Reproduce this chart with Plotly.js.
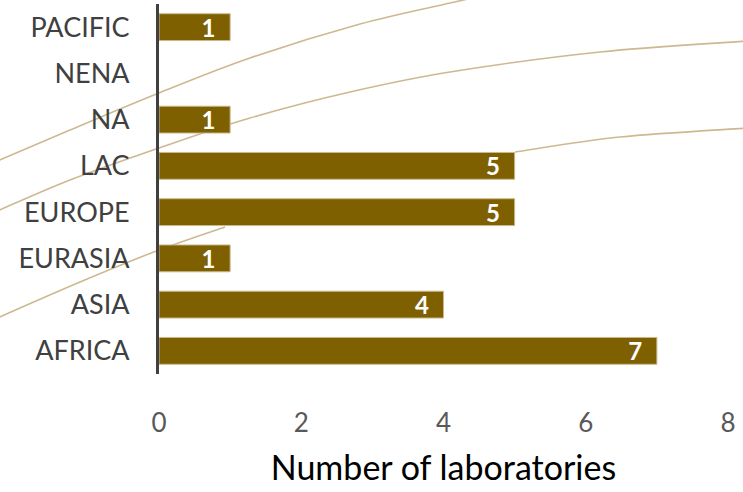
<!DOCTYPE html>
<html>
<head>
<meta charset="utf-8">
<script src="https://cdn.plot.ly/plotly-3.0.1.min.js"></script>
<style>html,body{margin:0;padding:0;background:#fff;}#chart{width:743px;height:492px;}</style>
</head>
<body>
<div id="chart"></div>
<script>
// Data
const regions = ["AFRICA", "ASIA", "EURASIA", "EUROPE", "LAC", "NA", "NENA", "PACIFIC"];
const labCounts = [7, 4, 1, 5, 5, 1, 0, 1];
const xTicks = [0, 2, 4, 6, 8];

// Plot geometry (pixels) for decorative curves
const W = 743, H = 492;
const M = {l: 159, r: 15, t: 4, b: 118};
const pw = W - M.l - M.r, ph = H - M.t - M.b;
function toPaper(p) { return [(p[0] - M.l) / pw, (H - M.b - p[1]) / ph]; }
function smoothPath(pts) {
  const P = pts.map(toPaper);
  let d = "M " + P[0][0] + "," + P[0][1];
  for (let i = 0; i < P.length - 1; i++) {
    const p0 = P[i - 1] || P[i], p1 = P[i], p2 = P[i + 1], p3 = P[i + 2] || P[i + 1];
    const c1 = [p1[0] + (p2[0] - p0[0]) / 6, p1[1] + (p2[1] - p0[1]) / 6];
    const c2 = [p2[0] - (p3[0] - p1[0]) / 6, p2[1] - (p3[1] - p1[1]) / 6];
    d += " C " + c1.join(",") + " " + c2.join(",") + " " + p2.join(",");
  }
  return d;
}
const curves = [
  [[-5, 162], [70, 130], [159, 93], [250, 58], [360, 24], [450, 3], [500, -8]],
  [[-5, 212], [70, 180], [159, 148], [250, 118], [350, 92], [450, 72], [600, 52], [748, 41]],
  [[-5, 319], [80, 282], [159, 250], [225, 227]],
  [[515, 152], [620, 137], [748, 128]]
];
const lineColor = "#CDB991";
const shapes = curves.map(c => ({
  type: "path", xref: "paper", yref: "paper", layer: "below",
  path: smoothPath(c), line: {color: lineColor, width: 1.6}
}));

const textPos = labCounts.map(v => v === 0 ? "outside" : "inside");
const lblFont = {family: "Lato, 'Open Sans', sans-serif", size: 24, color: "#FFFFFF", weight: "bold"};

const trace = {
  type: "bar",
  orientation: "h",
  y: regions,
  x: labCounts,
  width: 0.58,
  marker: {color: "#7F6000", line: {color: "#CBB88C", width: labCounts.map(v => v === 0 ? 0 : 1)}},
  text: labCounts.map(v => v === 0 ? String(v) : String(v) + "\u00A0\u00A0"),
  textposition: textPos,
  textangle: 0,
  constraintext: "none",
  insidetextanchor: "end",
  textfont: lblFont,
  insidetextfont: lblFont,
  outsidetextfont: lblFont,
  cliponaxis: false,
  hoverinfo: "x+y"
};

const layout = {
  width: W, height: H,
  margin: M,
  paper_bgcolor: "#FFFFFF",
  plot_bgcolor: "rgba(0,0,0,0)",
  showlegend: false,
  font: {family: "Lato, 'Open Sans', sans-serif", color: "#404040"},
  xaxis: {
    range: [0, 8],
    tickvals: xTicks,
    ticktext: xTicks.map(String),
    showgrid: false,
    zeroline: false,
    showline: false,
    ticks: "outside", ticklen: 26, tickcolor: "rgba(0,0,0,0)",
    tickfont: {size: 26, color: "#595959"},
    title: {text: "Number of laboratories", font: {size: 34, color: "#000000"}, standoff: 18}
  },
  yaxis: {
    type: "category",
    range: [-0.5, 7.5],
    showgrid: false,
    zeroline: false,
    showline: true, linecolor: "#404040", linewidth: 3,
    ticks: "outside", ticklen: 21, tickcolor: "rgba(0,0,0,0)",
    tickfont: {size: 27, color: "#404040"}
  },
  shapes: shapes
};

Plotly.newPlot("chart", [trace], layout, {displayModeBar: false, staticPlot: true});
</script>
</body>
</html>
